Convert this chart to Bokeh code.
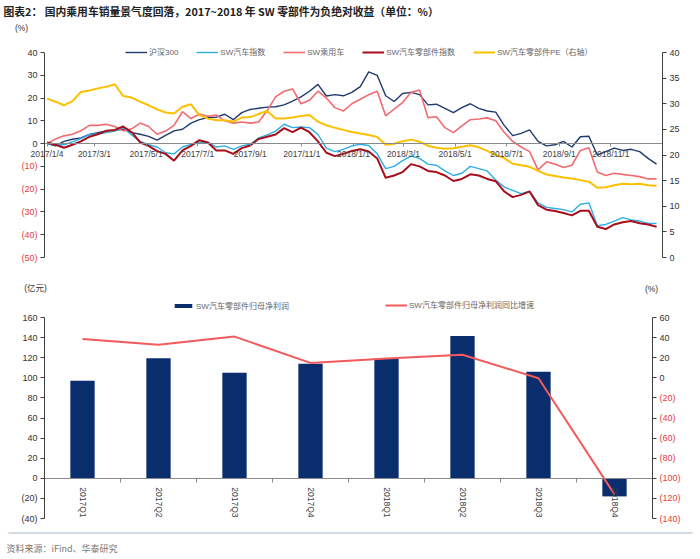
import math
import pandas as pd
from bokeh.plotting import figure
from bokeh.models import (Range1d, LinearAxis, FixedTicker, Legend, LegendItem, Label, BoxAnnotation)
from bokeh.embed import file_html
from bokeh.resources import INLINE

# ---------------- data: panel 1 (relative returns, %) ----------------
start_date = "2017-01-04"
dates = pd.date_range(start_date, periods=73, freq="10D")

hs300 = [0.0, -1.0, 1.0, 1.9, 2.5, 4.0, 4.8, 5.6, 5.8, 6.3, 4.8, 4.1, 3.2, 1.5, 3.6, 5.6, 6.3, 9.0,
         10.5, 11.4, 11.6, 12.9, 10.5, 13.6,
         15.0, 15.5, 16.0, 16.2, 17.0, 18.7, 20.5, 23.0, 26.0, 20.9, 21.5, 21.0, 22.5, 25.0, 31.5, 30.0,
         21.0, 18.5, 22.0, 22.5, 21.5, 17.0, 17.3, 15.5,
         13.6, 15.8, 17.5, 15.5, 14.3, 13.8, 8.0, 3.5, 4.5, 6.0, 1.0, -1.0, -0.5, 1.0, -1.5, 3.0, 3.2,
         -5.0, -3.5, -2.0, -3.0, -2.5, -3.5, -6.5, -9.0]
sw_auto = [0.0, -0.5, -0.5, 0.8, 2.2, 4.0, 4.3, 4.8, 5.5, 7.0, 3.8, 1.0, -0.5, -1.5, -4.0, -4.5, -1.5,
           -0.3, 0.5, 0.5, -1.5, -1.0, -2.5, -1.0,
           -0.3, 2.5, 3.8, 5.5, 8.5, 7.0, 7.3, 7.0, 4.0, -2.0, -3.5, -2.5, -1.0, -0.3, -0.8, -4.5,
           -11.0, -10.0, -7.5, -5.5, -6.5, -9.0, -9.5, -12.0,
           -14.0, -13.0, -10.0, -11.0, -12.0, -16.0, -19.0, -20.5, -22.0, -21.0, -26.0, -28.0, -28.5,
           -29.0, -30.0, -26.6, -26.0, -36.0, -35.5, -34.0, -32.5, -33.5, -34.0, -35.0, -35.0]
sw_car = [0.0, 2.0, 3.4, 4.1, 5.6, 8.0, 8.0, 8.5, 7.5, 5.6, 6.5, 9.0, 7.5, 4.1, 5.5, 8.0, 14.0, 11.0,
          13.0, 12.0, 12.5, 10.0, 9.0, 9.5,
          9.0, 9.5, 14.5, 20.5, 23.0, 24.0, 17.5, 19.0, 23.0, 20.0, 15.8, 14.3, 17.5, 19.5, 21.5, 23.0,
          12.2, 15.1, 18.0, 22.5, 23.5, 11.4, 11.8, 7.0,
          4.8, 7.8, 10.5, 10.8, 11.3, 10.0, 5.0, 1.0, -1.5, -3.5, -11.5, -8.0, -9.0, -10.5, -9.5,
          -3.0, -1.8, -12.5, -14.0, -13.0, -13.5, -14.0, -14.5, -15.5, -15.5]
sw_parts = [0.5, -0.5, -1.8, -0.5, 1.0, 3.0, 4.1, 5.6, 6.0, 7.5, 5.0, 0.5, -1.0, -3.3, -4.5, -7.5,
            -3.0, -1.0, 1.5, 0.5, -3.0, -3.0, -4.5, -2.0,
            -0.8, 2.0, 3.0, 4.0, 6.8, 5.0, 7.0, 5.0, 1.0, -4.0, -5.5, -4.5, -3.2, -2.5, -3.5, -6.5,
            -15.0, -14.0, -12.5, -9.0, -10.0, -12.0, -12.5, -14.0,
            -16.4, -15.5, -13.5, -14.0, -15.5, -16.5, -21.0, -23.5, -22.5, -21.0, -27.0, -29.0, -29.6,
            -30.5, -31.5, -29.5, -29.5, -36.5, -37.5, -35.5, -34.5, -34.0, -35.0, -35.5, -36.5]
sw_parts_pe = [31.0, 30.4, 29.7, 30.5, 32.3, 32.6, 33.0, 33.3, 33.8, 31.5, 31.2, 30.4, 29.7, 28.9,
               28.3, 28.1, 29.4, 29.9, 27.8, 27.1, 26.8, 26.8, 26.5, 27.3,
               27.4, 28.0, 28.6, 27.1, 27.1, 27.3, 27.6, 27.8, 26.5, 25.8, 25.3, 24.9, 24.5, 24.2,
               23.9, 23.5, 22.0, 22.2, 22.7, 23.0, 22.6, 21.8, 21.4, 21.2,
               21.3, 21.6, 21.9, 21.5, 20.8, 20.0, 19.4, 18.3, 18.0, 17.7, 16.9, 16.2, 15.9, 15.6,
               15.4, 15.1, 14.8, 13.6, 13.7, 14.1, 14.4, 14.3, 14.4, 14.1, 14.0]
series_names = ["沪深300", "SW汽车指数", "SW乘用车", "SW汽车零部件指数", "SW汽车零部件PE（右轴）"]

tick_dates = ["2017-01-04", "2017-03-01", "2017-05-01", "2017-07-01", "2017-09-01", "2017-11-01",
              "2018-01-01", "2018-03-01", "2018-05-01", "2018-07-01", "2018-09-01", "2018-11-01"]
tick_labels = ["2017/1/4", "2017/3/1", "2017/5/1", "2017/7/1", "2017/9/1", "2017/11/1",
               "2018/1/1", "2018/3/1", "2018/5/1", "2018/7/1", "2018/9/1", "2018/11/1"]
left_ticks_1 = [40, 30, 20, 10, 0, -10, -20, -30, -40, -50]
right_ticks_1 = [0, 5, 10, 15, 20, 25, 30, 35, 40]

# ---------------- data: panel 2 ----------------
quarters = ["2017Q1", "2017Q2", "2017Q3", "2017Q4", "2018Q1", "2018Q2", "2018Q3", "2018Q4"]
net_profit = [97, 119.5, 105, 114, 119, 141.5, 106, -18]          # 亿元
profit_growth = [38.6, 33.0, 41.0, 14.8, 19.3, 23.0, -0.5, -116.0]  # %
left_ticks_2 = [160, 140, 120, 100, 80, 60, 40, 20, 0, -20, -40]
right_ticks_2 = [60, 40, 20, 0, -20, -40, -60, -80, -100, -120, -140]

title_text = "图表2：  国内乘用车销量景气度回落，2017~2018 年 SW 零部件为负绝对收益（单位：%）"
source_text = "资料来源：iFind、华泰研究"

# ---------------- styling ----------------
NUM_FONT = "Liberation Sans"
MIX_FONT = "Liberation Sans, Noto Sans CJK SC"
CJK_FONT = "Noto Sans CJK SC"
TXT = "#333333"
LEG = "#666666"
RED = "#e2403d"
AX = "#404040"
ZERO = "#8a8a8a"
C_HS = "#1f3a6e"
C_AUTO = "#2eaee6"
C_CAR = "#f26b70"
C_PARTS = "#a80d1c"
C_PE = "#fbc000"
C_BAR = "#0a2d6e"
C_GROW = "#f25a5c"

W, H = 700, 558


def paren(v):
    return f"({abs(v)})" if v < 0 else str(v)


def fit_range(v_a, px_a, v_b, px_b, px_start, px_end):
    k = (v_b - v_a) / (px_b - px_a)
    return Range1d(v_a + (px_start - px_a) * k, v_a + (px_end - px_a) * k)


def style_axis(ax, size="9px", color=TXT):
    ax.axis_line_color = AX
    ax.major_tick_line_color = AX
    ax.major_tick_out = 4
    ax.major_tick_in = 0
    ax.minor_tick_out = 0
    ax.minor_tick_in = 0
    ax.major_label_standoff = 3
    ax.major_label_text_font = NUM_FONT
    ax.major_label_text_font_size = size
    ax.major_label_text_color = color


def legend(items, loc, gh, lh, gw=22):
    return Legend(items=items, orientation="horizontal", location=loc, padding=0, spacing=18,
                  glyph_width=gw, glyph_height=gh, label_height=lh, label_standoff=2,
                  label_text_font=MIX_FONT, label_text_font_size="8px", label_text_color=LEG,
                  border_line_color=None, background_fill_alpha=0)


base = pd.Timestamp(start_date)
xd = [(d - base).days for d in dates]
tick_days = [(pd.Timestamp(t) - base).days for t in tick_dates]
X0, X1 = -3, 727
Q0, Q1 = 0.5, len(quarters) + 0.5
xq = list(range(1, len(quarters) + 1))

p = figure(width=W, height=H, x_range=Range1d(0, W), y_range=Range1d(H, 0),
           x_axis_type=None, y_axis_type=None, min_border=0,
           output_backend="svg", toolbar_location=None)
p.outline_line_color = None
p.background_fill_color = "white"
p.border_fill_color = "white"

# scales of the two panels (plot areas placed at the reference's pixel boxes)
p.extra_x_ranges = {"days": fit_range(X0, 44, X1, 662, 0, W),
                    "q": fit_range(Q0, 44, Q1, 652, 0, W)}
p.extra_y_ranges = {"ret": fit_range(40, 52, -50, 257, H, 0),
                    "pe": fit_range(40, 52, 0, 257, H, 0),
                    "np": fit_range(160, 317, -40, 518, H, 0),
                    "g": fit_range(60, 317, -140, 518, H, 0)}

# ================= panel 1 axes =================
a = LinearAxis(x_range_name="days", y_range_name="ret", fixed_location=X0, bounds=(-50, 40),
               ticker=FixedTicker(ticks=[t for t in left_ticks_1 if t >= 0]))
style_axis(a)
p.add_layout(a, "left")
a = LinearAxis(x_range_name="days", y_range_name="ret", fixed_location=X0, bounds=(-50, 40),
               ticker=FixedTicker(ticks=[t for t in left_ticks_1 if t < 0]),
               major_label_overrides={t: paren(t) for t in left_ticks_1 if t < 0})
style_axis(a, color=RED)
a.axis_line_color = None
p.add_layout(a, "left")

a = LinearAxis(x_range_name="days", y_range_name="pe", fixed_location=X1, bounds=(0, 40),
               ticker=FixedTicker(ticks=right_ticks_1))
style_axis(a)
p.add_layout(a, "right")

a = LinearAxis(x_range_name="days", y_range_name="ret", fixed_location=0, bounds=(X0, X1),
               ticker=FixedTicker(ticks=tick_days),
               major_label_overrides={d: l for d, l in zip(tick_days, tick_labels)})
style_axis(a, "8.5px", "#404040")
a.axis_line_color = ZERO
a.major_tick_line_color = ZERO
a.major_tick_out = 3
a.major_label_standoff = 2
p.add_layout(a, "below")

# ================= panel 1 lines =================
kw = dict(x_range_name="days", y_range_name="ret")
r1 = p.line(xd, hs300, line_color=C_HS, line_width=1.4, **kw)
r2 = p.line(xd, sw_auto, line_color=C_AUTO, line_width=1.4, **kw)
r3 = p.line(xd, sw_car, line_color=C_CAR, line_width=1.6, **kw)
r4 = p.line(xd, sw_parts, line_color=C_PARTS, line_width=2.0, **kw)
r5 = p.line(xd, sw_parts_pe, line_color=C_PE, line_width=2.0, x_range_name="days", y_range_name="pe")

p.add_layout(legend([LegendItem(label=n, renderers=[r]) for n, r in
                     zip(series_names, [r1, r2, r3, r4, r5])], (125, H - 57), 10, 10))

# ================= panel 2 axes =================
a = LinearAxis(x_range_name="q", y_range_name="np", fixed_location=Q0, bounds=(-40, 160),
               ticker=FixedTicker(ticks=left_ticks_2),
               major_label_overrides={t: paren(t) for t in left_ticks_2})
style_axis(a)
p.add_layout(a, "left")

a = LinearAxis(x_range_name="q", y_range_name="g", fixed_location=Q1, bounds=(-140, 60),
               ticker=FixedTicker(ticks=[t for t in right_ticks_2 if t >= 0]))
style_axis(a)
p.add_layout(a, "right")
a = LinearAxis(x_range_name="q", y_range_name="g", fixed_location=Q1, bounds=(-140, 60),
               ticker=FixedTicker(ticks=[t for t in right_ticks_2 if t < 0]),
               major_label_overrides={t: paren(t) for t in right_ticks_2 if t < 0})
style_axis(a, color=RED)
a.axis_line_color = None
p.add_layout(a, "right")

a = LinearAxis(x_range_name="q", y_range_name="np", fixed_location=0, bounds=(Q0, Q1),
               ticker=FixedTicker(ticks=xq, minor_ticks=[i + 0.5 for i in range(len(quarters) + 1)]),
               major_label_overrides={i: q for i, q in zip(xq, quarters)},
               major_label_orientation=-math.pi / 2)
style_axis(a, "8.5px", "#404040")
a.axis_line_color = ZERO
a.major_tick_out = 0
a.minor_tick_out = 4
a.minor_tick_line_color = ZERO
a.major_label_standoff = 5
p.add_layout(a, "below")

# ================= panel 2 glyphs =================
b = p.vbar(x=xq, top=net_profit, width=0.32, fill_color=C_BAR, line_color=None,
           x_range_name="q", y_range_name="np")
g = p.line(xq, profit_growth, line_color=C_GROW, line_width=2, x_range_name="q", y_range_name="g")

p.add_layout(legend([LegendItem(label="SW汽车零部件归母净利润", renderers=[b])],
                    (172, H - 311), 5, 5))
p.add_layout(legend([LegendItem(label="SW汽车零部件归母净利润同比增速", renderers=[g])],
                    (385, H - 310), 10, 10))

# ================= texts (page pixel coordinates) =================
p.add_layout(Label(x=3, y=10, text=title_text, text_align="left", text_baseline="middle",
                   text_font=CJK_FONT, text_font_style="bold", text_font_size="10.8px", text_color="#222222"))
p.add_layout(Label(x=21, y=27, text="(%)", text_align="center", text_baseline="middle",
                   text_font=NUM_FONT, text_font_size="8.5px", text_color=TXT))
p.add_layout(Label(x=35, y=287, text="(亿元)", text_align="center", text_baseline="middle",
                   text_font=MIX_FONT, text_font_size="8.5px", text_color=TXT))
p.add_layout(Label(x=651, y=288, text="(%)", text_align="center", text_baseline="middle",
                   text_font=NUM_FONT, text_font_size="8.5px", text_color=TXT))
p.add_layout(BoxAnnotation(left=8, right=692, top=532, bottom=533, fill_color="#a7b8cf",
                           fill_alpha=1, line_color=None))
p.add_layout(Label(x=6, y=548, text=source_text, text_align="left", text_baseline="middle",
                   text_font=CJK_FONT, text_font_size="9px", text_color="#777777"))

open("out.html", "w").write(file_html(p, INLINE))
